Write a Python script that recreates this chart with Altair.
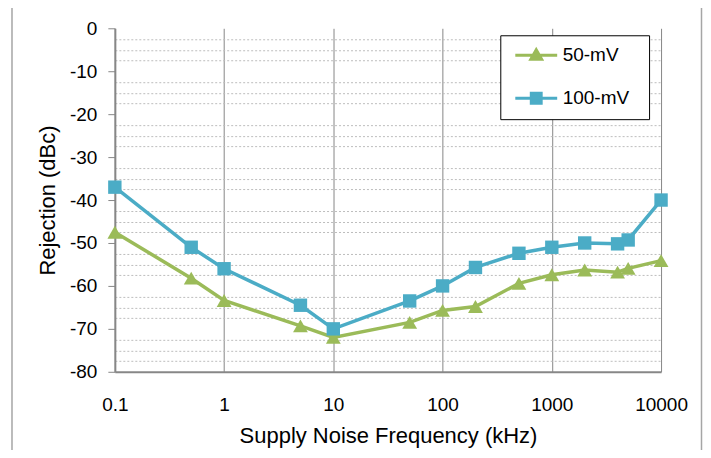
import altair as alt
import pandas as pd

# ---- data ----
freqs = [0.1, 0.5, 1, 5, 10, 50, 100, 200, 500, 1000, 2000, 4000, 5000, 10000]
rej_50mv = [-47.5, -58.2, -63.4, -69.3, -72.0, -68.5, -65.7, -64.8, -59.4, -57.4, -56.3, -56.8, -55.9, -54.1]
rej_100mv = [-37.0, -51.0, -56.0, -64.5, -70.0, -63.5, -60.0, -55.7, -52.4, -51.0, -50.0, -50.2, -49.3, -40.0]
series_names = ["50-mV", "100-mV"]
series_colors = ["#9BBB59", "#4BACC6"]
x_ticks = [0.1, 1, 10, 100, 1000, 10000]
y_major = [-80, -70, -60, -50, -40, -30, -20, -10, 0]
y_minor = [v * 2.5 for v in range(-32, 1) if v % 4 != 0]

rows = []
for f, a, b in zip(freqs, rej_50mv, rej_100mv):
    rows.append({"freq": f, "rej": a, "series": "50-mV"})
    rows.append({"freq": f, "rej": b, "series": "100-mV"})
df = pd.DataFrame(rows)

FONT = "Liberation Sans"

xscale = alt.Scale(type="log", domain=[0.1, 10000], nice=False)
yscale = alt.Scale(domain=[-80, 0], nice=False)
cscale = alt.Scale(domain=series_names, range=series_colors)

x_enc = alt.X("freq:Q", scale=xscale,
              axis=alt.Axis(values=x_ticks, format="~g", title="Supply Noise Frequency (kHz)",
                            ticks=False, labelPadding=24, titlePadding=11, labelFlush=False,
                            gridColor="#878787", gridWidth=1,
                            domainColor="#878787", domainWidth=2))
y_enc = alt.Y("rej:Q", scale=yscale,
              axis=alt.Axis(values=y_major, orient="left", title="Rejection (dBc)",
                            labelExpr="replace(datum.label, '\u2212', '-')",
                            tickSize=7, labelPadding=11, titlePadding=10, labelFlush=False,
                            tickColor="#878787", gridColor="#878787",
                            domainColor="#878787", domainWidth=2))
y_minor_enc = alt.Y("rej:Q", scale=yscale,
                    axis=alt.Axis(values=y_minor, orient="left", offset=0, title=None, labels=False,
                                  ticks=False, domain=False, grid=True,
                                  gridColor="#BDBDBD", gridDash=[2, 2]))

base = alt.Chart(df)

frame = alt.Chart(alt.Data(values=[{"k": 1}])).mark_rect(
    fillOpacity=0, stroke="#A6A6A6", strokeWidth=1.5
).encode(x=alt.value(-103), x2=alt.value(587.5), y=alt.value(-23.5), y2=alt.value(470))

lines = base.mark_line(strokeWidth=3.5).encode(
    x=x_enc, y=y_enc,
    color=alt.Color("series:N", scale=cscale, legend=None),
    detail="series:N",
)

tri = base.transform_filter(alt.datum.series == "50-mV").mark_point(
    shape="triangle-up", filled=True, size=220, opacity=1
).encode(x="freq:Q", y=alt.Y("rej:Q", axis=None),
         color=alt.Color("series:N", scale=cscale, legend=None))

sq = base.transform_filter(alt.datum.series == "100-mV").mark_point(
    shape="square", filled=True, size=180, opacity=1
).encode(x="freq:Q", y=alt.Y("rej:Q", axis=None),
         color=alt.Color("series:N", scale=cscale, legend=None))

tri_path = "M-2.33,0H2.33M-0.6,0.45L0,-0.6L0.6,0.45Z"
sq_path = "M-2.33,0H2.33M-0.55,-0.55H0.55V0.55H-0.55Z"

# invisible right-side title only widens the legend box to the reference width
leg = alt.Legend(orient="none", legendX=386, legendY=7, title=".",
                 titleOrient="right", titleColor="white", titleFontSize=19, titlePadding=4,
                 symbolSize=324, symbolStrokeWidth=3, symbolOffset=16, symbolOpacity=1,
                 labelOffset=16, rowPadding=21, padding=9.5,
                 strokeColor="black", fillColor="white",
                 labelFont=FONT, labelFontSize=19, labelColor="black")

legend_layer = base.mark_point(opacity=0).encode(
    x="freq:Q", y=y_minor_enc,
    fill=alt.Fill("series:N", scale=alt.Scale(domain=series_names, range=series_colors), legend=leg),
    stroke=alt.Stroke("series:N", scale=alt.Scale(domain=series_names, range=series_colors), legend=leg),
    shape=alt.Shape("series:N", scale=alt.Scale(domain=series_names, range=[tri_path, sq_path]), legend=leg),
)

chart = alt.layer(legend_layer, frame, lines, tri, sq).resolve_axis(y="independent").properties(
    width=547, height=344,
    background="white",
    autosize=alt.AutoSizeParams(type="none"),
    padding={"left": 107, "top": 20, "right": 42, "bottom": 78},
).configure_view(stroke=None).configure_axis(
    labelFont=FONT, labelFontSize=19, labelColor="black",
    titleFont=FONT, titleFontSize=22, titleColor="black", titleFontWeight="normal",
)

chart.save("out.html", embed_options={"renderer": "svg", "actions": False})
